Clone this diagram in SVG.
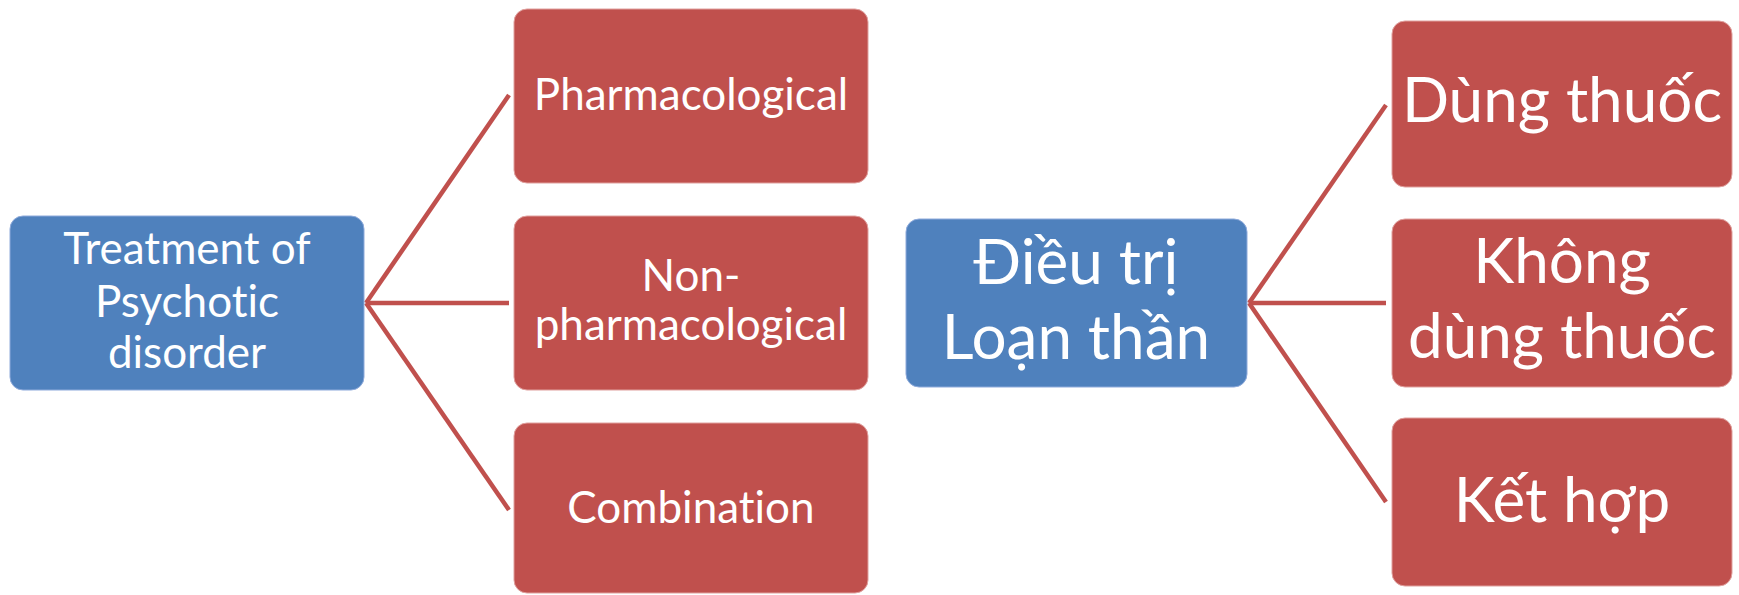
<svg xmlns="http://www.w3.org/2000/svg" width="1739" height="595" viewBox="0 0 1739 595">
<style>
.blue{fill:#4F81BD;stroke:#8EAADB;stroke-width:1}
.red{fill:#C0504D;stroke:#E0A09E;stroke-width:1}
.t{fill:#FFFFFF;font-family:Lato,"Open Sans","Noto Sans",sans-serif;text-anchor:middle;font-variant-ligatures:none;font-feature-settings:"liga" 0,"dlig" 0}
.s{font-size:44px}
.b{font-size:62px}
.c{stroke:#C0504D;stroke-width:4.5;fill:none}
</style>
<rect width="1739" height="595" fill="#FFFFFF"/>
<g id="connectors">
<line class="c" x1="366" y1="303" x2="509" y2="95"/>
<line class="c" x1="366" y1="303" x2="509" y2="303"/>
<line class="c" x1="366" y1="303" x2="509" y2="510"/>
<line class="c" x1="1249" y1="303" x2="1386" y2="105"/>
<line class="c" x1="1249" y1="303" x2="1386" y2="303"/>
<line class="c" x1="1249" y1="303" x2="1386" y2="502"/>
</g>
<g id="node-treatment">
<rect class="blue" x="10" y="216" width="354" height="174" rx="13"/>
<text class="t s" x="187" y="264">Treatment of</text>
<text class="t s" x="187" y="317">Psychotic</text>
<text class="t s" x="187" y="368">disorder</text>
</g>
<g id="node-pharmacological">
<rect class="red" x="514" y="9" width="354" height="174" rx="13"/>
<text class="t s" x="691" y="110">Pharmacological</text>
</g>
<g id="node-nonpharmacological">
<rect class="red" x="514" y="216" width="354" height="174" rx="13"/>
<text class="t s" x="691" y="291">Non-</text>
<text class="t s" x="691" y="340">pharmacological</text>
</g>
<g id="node-combination">
<rect class="red" x="514" y="423" width="354" height="170" rx="13"/>
<text class="t s" x="691" y="523">Combination</text>
</g>
<g id="node-dieutri">
<rect class="blue" x="906" y="219" width="341" height="168" rx="13"/>
<text class="t b" x="1076" y="284">Điều trị</text>
<text class="t b" x="1076" y="359">Loạn thần</text>
</g>
<g id="node-dungthuoc">
<rect class="red" x="1392" y="21" width="340" height="166" rx="13"/>
<text class="t b" x="1562" y="122">Dùng thuốc</text>
</g>
<g id="node-khongdungthuoc">
<rect class="red" x="1392" y="219" width="340" height="168" rx="13"/>
<text class="t b" x="1562" y="283">Không</text>
<text class="t b" x="1562" y="358">dùng thuốc</text>
</g>
<g id="node-kethop">
<rect class="red" x="1392" y="418" width="340" height="168" rx="13"/>
<text class="t b" x="1562" y="522">Kết hợp</text>
</g>
</svg>
